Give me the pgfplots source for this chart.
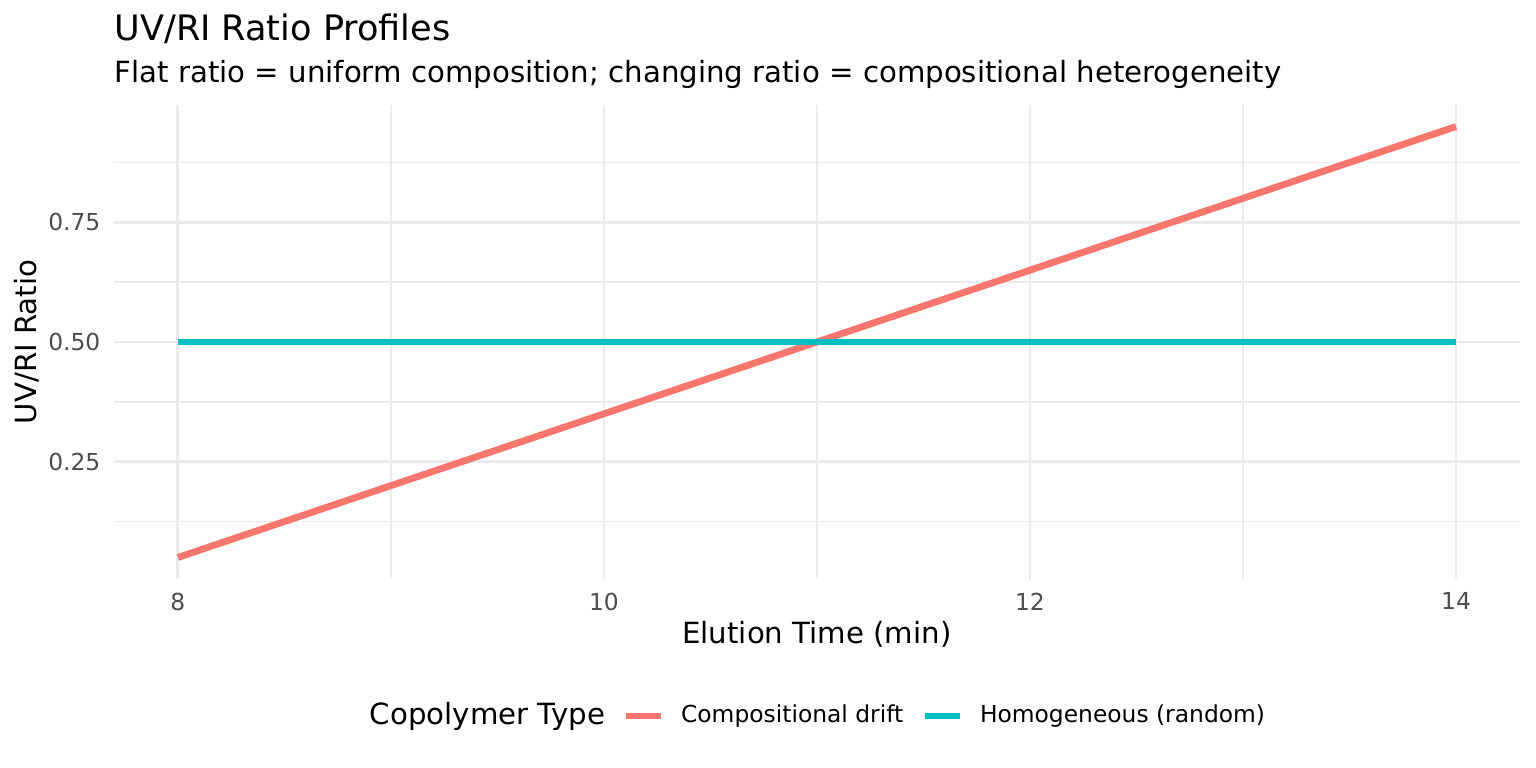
\documentclass[border=0pt]{standalone}
\usepackage{fontspec}
\setmainfont{DejaVu Sans}
\usepackage{pgfplots}
\pgfplotsset{compat=1.18}
\definecolor{cdrift}{HTML}{F8766D}
\definecolor{chomo}{HTML}{00BFC4}
\definecolor{gridc}{HTML}{EBEBEB}
\definecolor{tickc}{HTML}{4D4D4D}
\begin{document}
\begin{tikzpicture}
\path[use as bounding box] (0,0) rectangle (578.16pt,289.08pt);
\begin{axis}[
  at={(42.91pt,71.14pt)}, anchor=south west,
  scale only axis, width=529.2pt, height=178.42pt,
  xmin=7.7, xmax=14.3, ymin=0.005, ymax=0.995,
  axis line style={draw=none},
  tick style={draw=none},
  xtick={8,10,12,14}, ytick={0.25,0.5,0.75},
  minor xtick={9,11,13}, minor ytick={0.125,0.375,0.625,0.875},
  grid=both,
  major grid style={gridc, line width=1.07pt},
  minor grid style={gridc, line width=0.53pt},
  /pgf/number format/assume math mode=true,
  xticklabel style={font=\fontsize{8.8}{10}\selectfont, text=tickc, anchor=north, inner sep=0pt, yshift=-4.95pt},
  yticklabel style={font=\fontsize{8.8}{10}\selectfont, text=tickc, anchor=east, inner sep=0pt, xshift=-4.95pt,
    /pgf/number format/.cd, fixed, fixed zerofill, precision=2},
  legend columns=2,
  legend cell align=left,
  legend style={at={(axis description cs:0.3613,-0.2889)}, anchor=west, draw=none, fill=none, inner sep=0pt,
    font=\fontsize{8.8}{10}\selectfont, nodes={inner sep=0pt},
    /tikz/every odd column/.append style={column sep=6.3pt},
    /tikz/every even column/.append style={column sep=6.8pt}},
  legend image code/.code={\draw[#1, line width=2.57pt] (0pt,0pt) -- (13.2pt,0pt);},
]
\addplot[cdrift, line width=2.57pt] coordinates {(8,0.05) (14,0.95)};
\addlegendentry{Compositional drift}
\addplot[chomo, line width=2.57pt] coordinates {(8,0.5) (14,0.5)};
\addlegendentry{Homogeneous (random)}
\end{axis}
\node[anchor=base west, font=\fontsize{13.2}{15}\selectfont, inner sep=0pt] at (42.91pt,273.65pt) {UV/RI Ratio Profiles};
\node[anchor=base west, font=\fontsize{11}{13}\selectfont, inner sep=0pt] at (42.91pt,257.84pt) {Flat ratio = uniform composition; changing ratio = compositional heterogeneity};
\node[anchor=base, font=\fontsize{11}{13}\selectfont, inner sep=0pt] at (307.5pt,46.68pt) {Elution Time (min)};
\node[anchor=base, rotate=90, font=\fontsize{11}{13}\selectfont, inner sep=0pt] at (13.8pt,160.35pt) {UV/RI Ratio};
\node[anchor=base east, font=\fontsize{11}{13}\selectfont, inner sep=0pt] at (227.9pt,16.2pt) {Copolymer Type};
\end{tikzpicture}
\end{document}
